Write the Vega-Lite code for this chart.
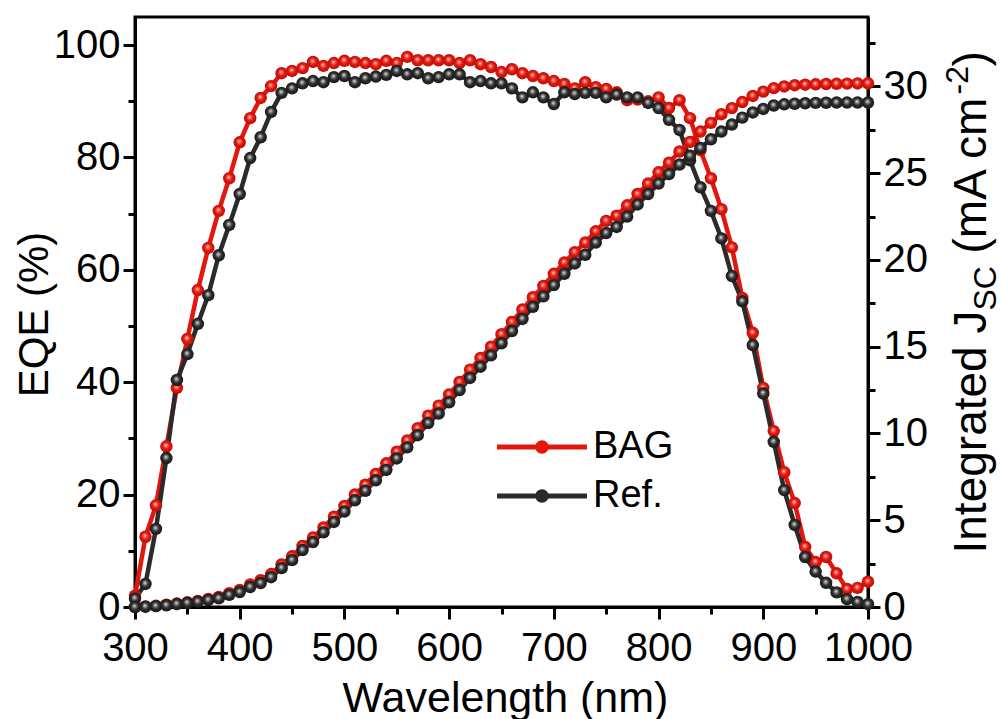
{
  "$schema": "https://vega.github.io/schema/vega-lite/v6.json",
  "width": 733,
  "height": 590,
  "autosize": "none",
  "padding": {"left": 135, "top": 17, "right": 133, "bottom": 112},
  "background": "white",
  "config": {
    "font": "Liberation Sans",
    "view": {"stroke": "black", "strokeWidth": 3},
    "axis": {"grid": false, "domainColor": "black", "domainWidth": 3, "tickColor": "black", "tickWidth": 3, "labelColor": "black", "titleColor": "black", "labelFont": "Liberation Sans", "titleFont": "Liberation Sans", "titleFontWeight": "normal"}
  },
  "data": {"values": [
{"wl":300,"s":"BAG","eqe":2,"jsc":0},{"wl":310,"s":"BAG","eqe":12.5,"jsc":0.03},{"wl":320,"s":"BAG","eqe":18.1,"jsc":0.07},{"wl":330,"s":"BAG","eqe":28.6,"jsc":0.13},{"wl":340,"s":"BAG","eqe":39,"jsc":0.2},{"wl":350,"s":"BAG","eqe":47.7,"jsc":0.27},{"wl":360,"s":"BAG","eqe":56.4,"jsc":0.35},{"wl":370,"s":"BAG","eqe":63.9,"jsc":0.46},{"wl":380,"s":"BAG","eqe":70.5,"jsc":0.58},{"wl":390,"s":"BAG","eqe":76.3,"jsc":0.8},
{"wl":400,"s":"BAG","eqe":82.7,"jsc":0.98},{"wl":410,"s":"BAG","eqe":87,"jsc":1.3},{"wl":420,"s":"BAG","eqe":90.6,"jsc":1.55},{"wl":430,"s":"BAG","eqe":92.7,"jsc":1.9},{"wl":440,"s":"BAG","eqe":95,"jsc":2.45},{"wl":450,"s":"BAG","eqe":95.4,"jsc":2.92},{"wl":460,"s":"BAG","eqe":95.9,"jsc":3.52},{"wl":470,"s":"BAG","eqe":97,"jsc":4.0},{"wl":480,"s":"BAG","eqe":96.3,"jsc":4.58},{"wl":490,"s":"BAG","eqe":96.8,"jsc":5.2},
{"wl":500,"s":"BAG","eqe":97.2,"jsc":5.82},{"wl":510,"s":"BAG","eqe":97,"jsc":6.48},{"wl":520,"s":"BAG","eqe":96.8,"jsc":7.05},{"wl":530,"s":"BAG","eqe":96.6,"jsc":7.67},{"wl":540,"s":"BAG","eqe":97.2,"jsc":8.28},{"wl":550,"s":"BAG","eqe":96.8,"jsc":8.95},{"wl":560,"s":"BAG","eqe":97.9,"jsc":9.6},{"wl":570,"s":"BAG","eqe":97.3,"jsc":10.3},{"wl":580,"s":"BAG","eqe":97.3,"jsc":11.02},{"wl":590,"s":"BAG","eqe":97.3,"jsc":11.6},
{"wl":600,"s":"BAG","eqe":97.3,"jsc":12.25},{"wl":610,"s":"BAG","eqe":96.8,"jsc":12.97},{"wl":620,"s":"BAG","eqe":97.3,"jsc":13.68},{"wl":630,"s":"BAG","eqe":96.6,"jsc":14.35},{"wl":640,"s":"BAG","eqe":96.1,"jsc":15.0},{"wl":650,"s":"BAG","eqe":95.2,"jsc":15.72},{"wl":660,"s":"BAG","eqe":95.7,"jsc":16.43},{"wl":670,"s":"BAG","eqe":95,"jsc":17.15},{"wl":680,"s":"BAG","eqe":94.5,"jsc":17.85},{"wl":690,"s":"BAG","eqe":94.1,"jsc":18.5},
{"wl":700,"s":"BAG","eqe":93.6,"jsc":19.2},{"wl":710,"s":"BAG","eqe":93.1,"jsc":19.85},{"wl":720,"s":"BAG","eqe":92.3,"jsc":20.45},{"wl":730,"s":"BAG","eqe":93.4,"jsc":21.0},{"wl":740,"s":"BAG","eqe":92.5,"jsc":21.65},{"wl":750,"s":"BAG","eqe":92.2,"jsc":22.25},{"wl":760,"s":"BAG","eqe":91.6,"jsc":22.55},{"wl":770,"s":"BAG","eqe":90.2,"jsc":23.15},{"wl":780,"s":"BAG","eqe":90.3,"jsc":23.8},{"wl":790,"s":"BAG","eqe":90,"jsc":24.4},
{"wl":800,"s":"BAG","eqe":90.7,"jsc":25.05},{"wl":810,"s":"BAG","eqe":88.8,"jsc":25.6},{"wl":820,"s":"BAG","eqe":90.2,"jsc":26.25},{"wl":830,"s":"BAG","eqe":87,"jsc":26.8},{"wl":840,"s":"BAG","eqe":81.3,"jsc":27.4},{"wl":850,"s":"BAG","eqe":76.3,"jsc":27.9},{"wl":860,"s":"BAG","eqe":70.8,"jsc":28.4},{"wl":870,"s":"BAG","eqe":64,"jsc":28.75},{"wl":880,"s":"BAG","eqe":55,"jsc":29.1},{"wl":890,"s":"BAG","eqe":48.8,"jsc":29.45},
{"wl":900,"s":"BAG","eqe":39,"jsc":29.7},{"wl":910,"s":"BAG","eqe":31.3,"jsc":29.9},{"wl":920,"s":"BAG","eqe":24,"jsc":30.0},{"wl":930,"s":"BAG","eqe":18.5,"jsc":30.07},{"wl":940,"s":"BAG","eqe":10.7,"jsc":30.1},{"wl":950,"s":"BAG","eqe":8,"jsc":30.12},{"wl":960,"s":"BAG","eqe":8.9,"jsc":30.14},{"wl":970,"s":"BAG","eqe":6,"jsc":30.15},{"wl":980,"s":"BAG","eqe":3.2,"jsc":30.16},{"wl":990,"s":"BAG","eqe":3.4,"jsc":30.17},{"wl":1000,"s":"BAG","eqe":4.5,"jsc":30.18},
{"wl":300,"s":"Ref.","eqe":1.5,"jsc":0},{"wl":310,"s":"Ref.","eqe":4.1,"jsc":0.02},{"wl":320,"s":"Ref.","eqe":13.9,"jsc":0.05},{"wl":330,"s":"Ref.","eqe":26.5,"jsc":0.1},{"wl":340,"s":"Ref.","eqe":40.4,"jsc":0.17},{"wl":350,"s":"Ref.","eqe":45,"jsc":0.23},{"wl":360,"s":"Ref.","eqe":50.4,"jsc":0.3},{"wl":370,"s":"Ref.","eqe":55.5,"jsc":0.4},{"wl":380,"s":"Ref.","eqe":62.6,"jsc":0.5},{"wl":390,"s":"Ref.","eqe":68,"jsc":0.7},
{"wl":400,"s":"Ref.","eqe":73.5,"jsc":0.86},{"wl":410,"s":"Ref.","eqe":79.9,"jsc":1.15},{"wl":420,"s":"Ref.","eqe":83.6,"jsc":1.38},{"wl":430,"s":"Ref.","eqe":88.1,"jsc":1.72},{"wl":440,"s":"Ref.","eqe":91.5,"jsc":2.24},{"wl":450,"s":"Ref.","eqe":92.3,"jsc":2.7},{"wl":460,"s":"Ref.","eqe":93.2,"jsc":3.28},{"wl":470,"s":"Ref.","eqe":93.6,"jsc":3.74},{"wl":480,"s":"Ref.","eqe":93.4,"jsc":4.3},{"wl":490,"s":"Ref.","eqe":94.3,"jsc":4.9},
{"wl":500,"s":"Ref.","eqe":94.5,"jsc":5.5},{"wl":510,"s":"Ref.","eqe":93.4,"jsc":6.15},{"wl":520,"s":"Ref.","eqe":94.1,"jsc":6.7},{"wl":530,"s":"Ref.","eqe":94.4,"jsc":7.3},{"wl":540,"s":"Ref.","eqe":94.7,"jsc":7.9},{"wl":550,"s":"Ref.","eqe":95.4,"jsc":8.56},{"wl":560,"s":"Ref.","eqe":94.8,"jsc":9.2},{"wl":570,"s":"Ref.","eqe":95,"jsc":9.9},{"wl":580,"s":"Ref.","eqe":94.1,"jsc":10.6},{"wl":590,"s":"Ref.","eqe":94.3,"jsc":11.15},
{"wl":600,"s":"Ref.","eqe":94.8,"jsc":11.8},{"wl":610,"s":"Ref.","eqe":94.8,"jsc":12.5},{"wl":620,"s":"Ref.","eqe":93.4,"jsc":13.2},{"wl":630,"s":"Ref.","eqe":93.6,"jsc":13.85},{"wl":640,"s":"Ref.","eqe":93.2,"jsc":14.5},{"wl":650,"s":"Ref.","eqe":93.2,"jsc":15.2},{"wl":660,"s":"Ref.","eqe":92.3,"jsc":15.9},{"wl":670,"s":"Ref.","eqe":90.7,"jsc":16.6},{"wl":680,"s":"Ref.","eqe":91.6,"jsc":17.3},{"wl":690,"s":"Ref.","eqe":90.7,"jsc":17.9},
{"wl":700,"s":"Ref.","eqe":89.5,"jsc":18.55},{"wl":710,"s":"Ref.","eqe":91.6,"jsc":19.2},{"wl":720,"s":"Ref.","eqe":91.3,"jsc":19.8},{"wl":730,"s":"Ref.","eqe":91.5,"jsc":20.3},{"wl":740,"s":"Ref.","eqe":91.5,"jsc":21},{"wl":750,"s":"Ref.","eqe":90.7,"jsc":21.55},{"wl":760,"s":"Ref.","eqe":91.2,"jsc":21.9},{"wl":770,"s":"Ref.","eqe":90.7,"jsc":22.5},{"wl":780,"s":"Ref.","eqe":90.7,"jsc":23.2},{"wl":790,"s":"Ref.","eqe":89.7,"jsc":23.8},
{"wl":800,"s":"Ref.","eqe":88.8,"jsc":24.4},{"wl":810,"s":"Ref.","eqe":86.7,"jsc":24.95},{"wl":820,"s":"Ref.","eqe":84.9,"jsc":25.5},{"wl":830,"s":"Ref.","eqe":79.5,"jsc":26},{"wl":840,"s":"Ref.","eqe":74.7,"jsc":26.45},{"wl":850,"s":"Ref.","eqe":70.5,"jsc":26.95},{"wl":860,"s":"Ref.","eqe":65.6,"jsc":27.4},{"wl":870,"s":"Ref.","eqe":58.9,"jsc":27.8},{"wl":880,"s":"Ref.","eqe":54.4,"jsc":28.2},{"wl":890,"s":"Ref.","eqe":46.6,"jsc":28.5},
{"wl":900,"s":"Ref.","eqe":38,"jsc":28.7},{"wl":910,"s":"Ref.","eqe":29.4,"jsc":28.9},{"wl":920,"s":"Ref.","eqe":20.8,"jsc":28.97},{"wl":930,"s":"Ref.","eqe":14.6,"jsc":29.0},{"wl":940,"s":"Ref.","eqe":8.9,"jsc":29.03},{"wl":950,"s":"Ref.","eqe":6.3,"jsc":29.05},{"wl":960,"s":"Ref.","eqe":4.3,"jsc":29.06},{"wl":970,"s":"Ref.","eqe":2.6,"jsc":29.07},{"wl":980,"s":"Ref.","eqe":1.4,"jsc":29.07},{"wl":990,"s":"Ref.","eqe":0.9,"jsc":29.07},{"wl":1000,"s":"Ref.","eqe":0.5,"jsc":29.07}
  ]},
  "encoding": {
    "x": {"field": "wl", "type": "quantitative", "scale": {"domain": [300, 1000], "nice": false, "zero": false},
      "axis": {"values": [300,350,400,450,500,550,600,650,700,750,800,850,900,950,1000],
        "labelExpr": "datum.value % 100 === 0 ? '' + datum.value : ''",
        "tickSize": {"condition": {"test": "datum.value % 100 === 0", "value": 12}, "value": 7},
        "labelFontSize": 40, "labelPadding": 9, "labelOverlap": false, "labelFlush": false,
        "title": "Wavelength (nm)", "titleFontSize": 43, "titleX": 370, "titleY": 104, "titleAlign": "center", "titleBaseline": "alphabetic"}}
  },
  "resolve": {"scale": {"y": "independent"}},
  "layer": [
    {
      "encoding": {"y": {"field": "eqe", "type": "quantitative", "scale": {"domain": [0, 105], "nice": false},
        "axis": {"orient": "left", "values": [0,10,20,30,40,50,60,70,80,90,100],
          "labelExpr": "datum.value % 20 === 0 ? '' + datum.value : ''",
          "tickSize": {"condition": {"test": "datum.value % 20 === 0", "value": 12}, "value": 7},
          "labelFontSize": 40, "labelPadding": 3,
          "title": "EQE (%)", "titleFontSize": 42, "titleAngle": 270, "titleX": -88, "titleY": 297, "titleAlign": "center", "titleBaseline": "alphabetic"}}},
      "layer": [
        {"mark": {"type": "line", "strokeWidth": 4.5},
         "encoding": {"color": {"field": "s", "type": "nominal", "scale": {"domain": ["BAG", "Ref."], "range": ["#e2170e", "#2b2b2b"]},
           "legend": {"orient": "none", "legendX": 388, "legendY": 411, "title": null, "padding": 0,
             "symbolType": "M-3,-0.17H3V0.17H-3Z M0.45,0A0.45,0.45 0 1,1 -0.45,0A0.45,0.45 0 1,1 0.45,0Z",
             "symbolSize": 900, "symbolStrokeWidth": 0, "labelFontSize": 38, "labelOffset": 32, "rowPadding": 11, "labelColor": "black", "labelFont": "Liberation Sans",
             "encode": {"symbols": {"update": {"fill": {"scale": "color", "field": "value"}, "stroke": {"value": "transparent"}, "opacity": {"value": 1}}}}}}}},
        {"transform": [{"filter": "datum.s === 'BAG'"}],
         "mark": {"type": "point", "filled": true, "size": 155, "opacity": 1,
           "fill": {"gradient": "radial", "x1": 0.45, "y1": 0.4, "r1": 0, "x2": 0.5, "y2": 0.5, "r2": 0.55,
             "stops": [{"offset": 0, "color": "#ffe0e0"}, {"offset": 0.22, "color": "#f26a60"}, {"offset": 0.5, "color": "#e2170e"}, {"offset": 1, "color": "#b80c06"}]}}},
        {"transform": [{"filter": "datum.s === 'Ref.'"}],
         "mark": {"type": "point", "filled": true, "size": 155, "opacity": 1,
           "fill": {"gradient": "radial", "x1": 0.45, "y1": 0.4, "r1": 0, "x2": 0.5, "y2": 0.5, "r2": 0.55,
             "stops": [{"offset": 0, "color": "#eeeeee"}, {"offset": 0.22, "color": "#8a8a8a"}, {"offset": 0.5, "color": "#2e2e2e"}, {"offset": 1, "color": "#141414"}]}}}
      ]
    },
    {
      "encoding": {"y": {"field": "jsc", "type": "quantitative", "scale": {"domain": [0, 34], "nice": false},
        "axis": {"orient": "right", "values": [0,2.5,5,7.5,10,12.5,15,17.5,20,22.5,25,27.5,30,32.5],
          "labelExpr": "datum.value % 5 === 0 ? '' + datum.value : ''",
          "tickSize": {"condition": {"test": "datum.value % 5 === 0", "value": 12}, "value": 7},
          "labelFontSize": 40, "labelPadding": 3,
          "title": "Integrated J", "titleFontSize": 46, "titleAngle": 270, "titleX": 117, "titleY": 536, "titleAlign": "left", "titleBaseline": "alphabetic"}}},
      "layer": [
        {"transform": [{"filter": "datum.s === 'BAG'"}], "mark": {"type": "line", "strokeWidth": 4.5, "color": "#e2170e"}},
        {"transform": [{"filter": "datum.s === 'Ref.'"}], "mark": {"type": "line", "strokeWidth": 4.5, "color": "#2b2b2b"}},
        {"transform": [{"filter": "datum.s === 'BAG'"}],
         "mark": {"type": "point", "filled": true, "size": 155, "opacity": 1,
           "fill": {"gradient": "radial", "x1": 0.45, "y1": 0.4, "r1": 0, "x2": 0.5, "y2": 0.5, "r2": 0.55,
             "stops": [{"offset": 0, "color": "#ffe0e0"}, {"offset": 0.22, "color": "#f26a60"}, {"offset": 0.5, "color": "#e2170e"}, {"offset": 1, "color": "#b80c06"}]}}},
        {"transform": [{"filter": "datum.s === 'Ref.'"}],
         "mark": {"type": "point", "filled": true, "size": 155, "opacity": 1,
           "fill": {"gradient": "radial", "x1": 0.45, "y1": 0.4, "r1": 0, "x2": 0.5, "y2": 0.5, "r2": 0.55,
             "stops": [{"offset": 0, "color": "#eeeeee"}, {"offset": 0.22, "color": "#8a8a8a"}, {"offset": 0.5, "color": "#2e2e2e"}, {"offset": 1, "color": "#141414"}]}}}
      ]
    },
    {
      "mark": {"type": "point", "opacity": 0},
      "encoding": {"y": {"field": "jsc", "type": "quantitative", "scale": {"domain": [0, 34], "nice": false},
        "axis": {"orient": "right", "labels": false, "ticks": false, "domain": false, "title": "SC", "titleFontSize": 32, "titleAngle": 270, "titleX": 127, "titleY": 293, "titleAlign": "left", "titleBaseline": "alphabetic"}}}
    },
    {
      "mark": {"type": "point", "opacity": 0},
      "encoding": {"y": {"field": "jsc", "type": "quantitative", "scale": {"domain": [0, 34], "nice": false},
        "axis": {"orient": "right", "labels": false, "ticks": false, "domain": false, "title": "(mA cm", "titleFontSize": 46, "titleAngle": 270, "titleX": 117, "titleY": 236, "titleAlign": "left", "titleBaseline": "alphabetic"}}}
    },
    {
      "mark": {"type": "point", "opacity": 0},
      "encoding": {"y": {"field": "jsc", "type": "quantitative", "scale": {"domain": [0, 34], "nice": false},
        "axis": {"orient": "right", "labels": false, "ticks": false, "domain": false, "title": "-2", "titleFontSize": 32, "titleAngle": 270, "titleX": 99, "titleY": 77, "titleAlign": "left", "titleBaseline": "alphabetic"}}}
    },
    {
      "mark": {"type": "point", "opacity": 0},
      "encoding": {"y": {"field": "jsc", "type": "quantitative", "scale": {"domain": [0, 34], "nice": false},
        "axis": {"orient": "right", "labels": false, "ticks": false, "domain": false, "title": ")", "titleFontSize": 46, "titleAngle": 270, "titleX": 117, "titleY": 49, "titleAlign": "left", "titleBaseline": "alphabetic"}}}
    }
  ]
}
